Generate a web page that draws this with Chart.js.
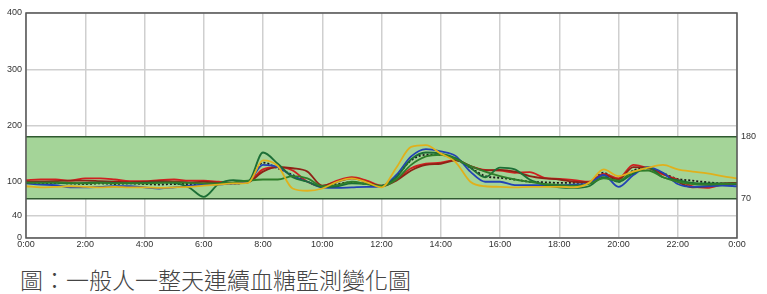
<!DOCTYPE html>
<html>
<head>
<meta charset="utf-8">
<script src="https://cdn.jsdelivr.net/npm/chart.js@4"></script>
<style>
  body { margin: 0; background: #fff; }
  #wrap { position: relative; width: 767px; height: 258px; }
  #caption {
    position: absolute; left: 20px; top: 262px;
    font-family: "Noto Sans CJK TC", sans-serif; font-size: 23px; font-weight: 300;
    color: #444; white-space: nowrap; letter-spacing: 0px;
  }
</style>
</head>
<body>
<div id="wrap"><canvas id="bg_chart"></canvas></div>
<div id="caption">圖：一般人一整天連續血糖監測變化圖</div>
<script>
// jam (0 - 24, tiap 30 menit)
const hours = [0,0.5,1,1.5,2,2.5,3,3.5,4,4.5,5,5.5,6,6.5,7,7.5,8,8.5,9,9.5,10,10.5,11,11.5,
  12,12.5,13,13.5,14,14.5,15,15.5,16,16.5,17,17.5,18,18.5,19,19.5,20,20.5,21,21.5,22,22.5,23,23.5,24];

const yTicksLeft = [0, 40, 100, 200, 300, 400];
const yTicksRight = [70, 180];
const targetLow = 70;
const targetHigh = 180;

const redValues = [103,104,104,102,106,106,104,101,101,103,104,102,102,100,98,100,
  122,126,120,100,92,102,108,102,93,104,124,132,134,139,128,121,
  120,116,117,107,105,103,100,114,106,130,124,113,104,92,89,95,97];
const darkRedValues = [100,100,101,102,102,101,100,99,100,101,100,99,100,98,97,99,
  118,126,124,118,93,100,106,100,92,102,120,130,132,138,128,120,
  121,118,110,106,104,100,99,112,104,126,125,115,100,90,92,97,98];
const blueValues = [97,95,94,90,90,91,92,92,90,88,90,93,95,95,97,100,
  130,126,110,100,90,89,90,91,92,112,145,158,154,146,118,100,
  100,94,94,94,94,95,97,112,91,112,126,116,96,91,92,93,92];
const greenValues = [98,99,98,97,98,99,98,97,98,99,98,90,73,96,103,101,
  152,132,108,100,91,92,97,96,93,108,140,152,150,142,125,108,
  125,122,104,95,90,89,92,108,100,115,125,108,103,98,97,97,96];
const green2Values = [99,98,99,98,97,98,97,98,97,98,99,98,97,97,99,102,
  104,104,110,106,92,94,100,96,92,104,130,145,148,140,128,118,
  110,104,100,96,94,93,96,106,102,118,120,108,100,96,95,96,97];
const goldValues = [92,90,91,92,91,90,91,90,90,89,90,91,93,95,97,98,
  138,128,88,84,88,100,106,99,90,125,162,165,150,135,100,92,
  91,90,91,91,91,90,98,122,110,118,125,130,122,118,115,110,106];
const blackValues = [98,97,98,97,96,97,96,97,96,95,96,96,95,96,97,99,
  134,124,112,100,92,96,99,96,92,110,138,148,148,140,125,110,
  107,104,100,99,98,98,98,116,100,120,124,115,105,102,99,97,96];

function toPoints(values) {
  return values.map((v, i) => ({ x: hours[i], y: v }));
}

function line(label, color, values, dash) {
  return {
    label: label,
    data: toPoints(values),
    borderColor: color,
    borderWidth: 1.8,
    borderDash: dash || [],
    pointRadius: 0,
    fill: false,
    cubicInterpolationMode: "monotone",
  };
}

// pita hijau target 70-180 dan bingkai
const bandPlugin = {
  id: "band",
  beforeDatasetsDraw(chart) {
    const ctx = chart.ctx;
    const area = chart.chartArea;
    const y = chart.scales.y;
    const top = y.getPixelForValue(targetHigh);
    const bottom = y.getPixelForValue(targetLow);
    ctx.save();
    ctx.fillStyle = "rgb(164, 212, 152)";
    ctx.fillRect(area.left, top, area.right - area.left, bottom - top);
    ctx.strokeStyle = "#2f5a30";
    ctx.lineWidth = 1.5;
    ctx.beginPath();
    ctx.moveTo(area.left, top); ctx.lineTo(area.right, top);
    ctx.moveTo(area.left, bottom); ctx.lineTo(area.right, bottom);
    ctx.stroke();
    ctx.restore();
  },
  afterDraw(chart) {
    const ctx = chart.ctx;
    const a = chart.chartArea;
    ctx.save();
    ctx.strokeStyle = "#555";
    ctx.lineWidth = 1.5;
    ctx.strokeRect(a.left, a.top, a.right - a.left, a.bottom - a.top);
    ctx.restore();
  },
};

const tickFont = { family: "Liberation Sans, Arial", size: 9 };

const chart = new Chart(document.getElementById("bg_chart").getContext("2d"), {
  type: "line",
  data: {
    datasets: [
      line("gold", "#e0b01c", goldValues),
      line("green2", "#2f7d2a", green2Values),
      line("green", "#1c6f36", greenValues),
      line("blue", "#2342b5", blueValues),
      line("darkred", "#8e2216", darkRedValues),
      line("red", "#cf2020", redValues),
      line("avg", "#1a1a1a", blackValues, [2, 2]),
    ],
  },
  options: {
    responsive: true,
    maintainAspectRatio: false,
    animation: false,
    layout: { padding: { top: 13, left: 0, right: 0, bottom: 0 } },
    plugins: {
      legend: { display: false },
      tooltip: { enabled: false },
      title: { display: false },
    },
    scales: {
      x: {
        type: "linear",
        min: 0,
        max: 24,
        afterBuildTicks(axis) {
          axis.ticks = hours.filter((h) => h % 2 === 0).map((h) => ({ value: h }));
        },
        ticks: {
          font: tickFont,
          color: "#333",
          padding: 1,
          maxRotation: 0,
          autoSkip: false,
          callback: (v) => (v % 24) + ":00",
        },
        grid: { color: "#cfcfcf", lineWidth: 1.5, drawTicks: false },
        border: { display: false },
        afterFit(axis) { axis.height = 20; },
      },
      y: {
        min: 0,
        max: 400,
        afterBuildTicks(axis) {
          axis.ticks = yTicksLeft.map((v) => ({ value: v }));
        },
        ticks: { font: tickFont, color: "#333", padding: 4 },
        grid: { color: "#cfcfcf", lineWidth: 1.5, drawTicks: false },
        border: { display: false },
        afterFit(axis) { axis.width = 26; },
      },
      y2: {
        position: "right",
        min: 0,
        max: 400,
        afterBuildTicks(axis) {
          axis.ticks = yTicksRight.map((v) => ({ value: v }));
        },
        ticks: { font: tickFont, color: "#333", padding: 4 },
        grid: { display: false, drawTicks: false },
        border: { display: false },
        afterFit(axis) { axis.width = 30; },
      },
    },
  },
  plugins: [bandPlugin],
});
</script>
</body>
</html>
